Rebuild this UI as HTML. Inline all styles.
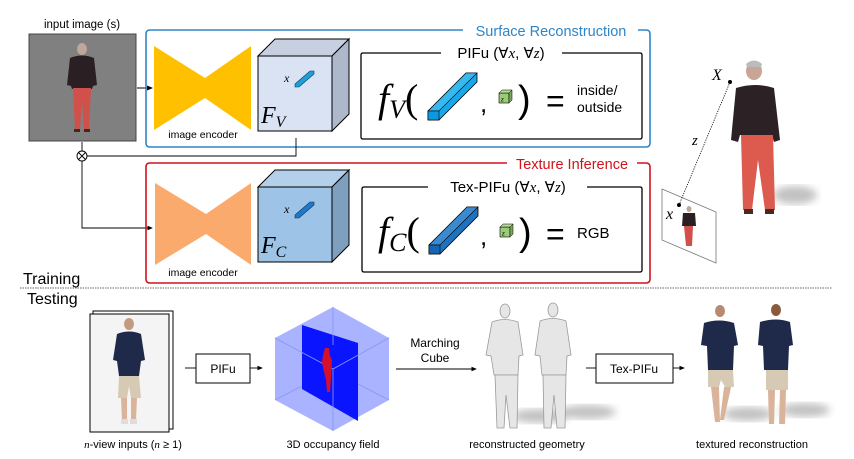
<!DOCTYPE html>
<html><head><meta charset="utf-8"><style>
html,body{margin:0;padding:0;background:#fff;}
svg{display:block;}
text{font-family:"Liberation Sans",sans-serif;}
.s{font-family:"Liberation Serif",serif;font-style:italic;}
</style></head><body>
<svg width="854" height="459" viewBox="0 0 854 459" xmlns="http://www.w3.org/2000/svg">
<defs>
<marker id="ar" markerWidth="6" markerHeight="6" refX="5" refY="3" orient="auto"><path d="M0,0.5 L6,3 L0,5.5z" fill="#000"/></marker>
<filter id="bl"><feGaussianBlur stdDeviation="4"/></filter>
</defs>

<!-- input image -->
<text x="82" y="28" font-size="11.5" text-anchor="middle">input image (s)</text>
<rect x="29" y="34" width="107" height="107" fill="#808080" stroke="#444" stroke-width="1"/>
<g>
<ellipse cx="82" cy="49" rx="5" ry="6" fill="#bfa79a"/>
<path d="M70,58 Q82,53 94,58 L97,85 L93,86 L92,89 L72,89 L71,86 L67,85z" fill="#2a2023"/>
<path d="M73,88 L91,88 L89,130 L84,130 L82,100 L80,130 L75,130z" fill="#d2504a"/>
<rect x="74" y="129" width="6" height="3" fill="#3a2a22"/><rect x="84" y="129" width="6" height="3" fill="#3a2a22"/>
</g>
<line x1="137" y1="88" x2="152" y2="88" stroke="#000" marker-end="url(#ar)"/>

<!-- blue box -->
<path d="M463,30 L150,30 Q146,30 146,34 L146,143 Q146,147 150,147 L646,147 Q650,147 650,143 L650,34 Q650,30 646,30 L638,30" fill="none" stroke="#2e86c9" stroke-width="1.6"/>
<text x="551" y="36" font-size="14.5" fill="#2e86c9" text-anchor="middle">Surface Reconstruction</text>
<polygon points="154,46 205,78 251,46 251,130 205,98 154,130" fill="#ffc000"/>
<text x="203" y="138" font-size="10.5" text-anchor="middle">image encoder</text>
<polygon points="258,56 275,39 349,39 332,56" fill="#c6d0e0" stroke="#000" stroke-width="1"/>
<polygon points="332,56 349,39 349,114 332,131" fill="#adb9ca" stroke="#000" stroke-width="1"/>
<rect x="258" y="56" width="74" height="75" fill="#dae3f3" stroke="#000" stroke-width="1"/>
<text x="284" y="82" class="s" font-size="12">x</text>
<polygon points="295,84 310,71 314,71 314,74 299,87 295,87" fill="#1f9fd8" stroke="#063a5c" stroke-width="0.6"/>
<text x="261" y="123" class="s" font-size="24">F<tspan font-size="16" dy="4">V</tspan></text>

<!-- connector -->
<path d="M296,138 L296,156 L87,156" fill="none" stroke="#000" stroke-width="0.9"/>
<line x1="82" y1="142" x2="82" y2="151" stroke="#000" stroke-width="0.9"/>
<circle cx="82" cy="156" r="5" fill="#fff" stroke="#000" stroke-width="0.9"/>
<path d="M78.5,152.5 L85.5,159.5 M85.5,152.5 L78.5,159.5" stroke="#000" stroke-width="0.9"/>
<path d="M82,161 L82,228 L152,228" fill="none" stroke="#000" stroke-width="0.9" marker-end="url(#ar)"/>

<!-- red box -->
<path d="M507,163 L150,163 Q146,163 146,167 L146,279 Q146,283 150,283 L646,283 Q650,283 650,279 L650,167 Q650,163 646,163 L637,163" fill="none" stroke="#d0121b" stroke-width="1.6"/>
<text x="572" y="169" font-size="14.5" fill="#d0121b" text-anchor="middle">Texture Inference</text>
<polygon points="155,183 206,214 251,183 251,265 206,234 155,265" fill="#fbaa6e"/>
<text x="203" y="276" font-size="10.5" text-anchor="middle">image encoder</text>
<polygon points="258,187 275,170 349,170 332,187" fill="#b4cfe9" stroke="#000" stroke-width="1"/>
<polygon points="332,187 349,170 349,245 332,262" fill="#7f9fbf" stroke="#000" stroke-width="1"/>
<rect x="258" y="187" width="74" height="75" fill="#9dc3e6" stroke="#000" stroke-width="1"/>
<text x="284" y="213" class="s" font-size="12">x</text>
<polygon points="295,215 310,202 314,202 314,205 299,218 295,218" fill="#1f78c8" stroke="#063a5c" stroke-width="0.6"/>
<text x="261" y="253" class="s" font-size="24">F<tspan font-size="16" dy="4">C</tspan></text>

<!-- PIFu box -->
<path d="M441,53 L363,53 Q361,53 361,55 L361,137 Q361,139 363,139 L640,139 Q642,139 642,137 L642,55 Q642,53 640,53 L562,53" fill="none" stroke="#000" stroke-width="1.3"/>
<text x="501" y="58" font-size="15" text-anchor="middle">PIFu (∀<tspan class="s">x</tspan>, ∀<tspan class="s">z</tspan>)</text>
<text x="378" y="112" class="s" font-size="40">f<tspan font-size="26" dy="6">V</tspan><tspan dy="-6" font-style="normal">(</tspan></text>
<polygon points="428,111 466,73 477,73 477,82 439,120 428,120" fill="#1aa7e8" stroke="#000" stroke-width="0.8"/>
<polygon points="428,111 439,111 477,73 466,73" fill="#35b9f0" stroke="#000" stroke-width="0.6"/>
<rect x="428" y="111" width="11" height="9" fill="#0b9ae0" stroke="#000" stroke-width="0.6"/>
<text x="480" y="112" font-size="26">,</text>
<rect x="499" y="93" width="10" height="10" fill="#9acb78" stroke="#000" stroke-width="0.6"/>
<polygon points="499,93 502,90 512,90 509,93" fill="#b6dc98" stroke="#000" stroke-width="0.5"/>
<polygon points="509,93 512,90 512,100 509,103" fill="#78a85a" stroke="#000" stroke-width="0.5"/>
<text x="501" y="101.5" class="s" font-size="7">z</text>
<text x="518" y="112" font-size="38" font-family="Liberation Serif">)</text>
<text x="546" y="112" font-size="32">=</text>
<text x="577" y="95" font-size="14">inside/</text>
<text x="577" y="112" font-size="14">outside</text>

<!-- Tex-PIFu box -->
<path d="M428,187 L364,187 Q362,187 362,189 L362,270 Q362,272 364,272 L640,272 Q642,272 642,270 L642,189 Q642,187 640,187 L587,187" fill="none" stroke="#000" stroke-width="1.3"/>
<text x="508" y="192" font-size="15" text-anchor="middle">Tex-PIFu (∀<tspan class="s">x</tspan>, ∀<tspan class="s">z</tspan>)</text>
<text x="378" y="245" class="s" font-size="40">f<tspan font-size="26" dy="6">C</tspan><tspan dy="-6" font-style="normal">(</tspan></text>
<polygon points="429,245 467,207 478,207 478,216 440,254 429,254" fill="#1f72bd" stroke="#000" stroke-width="0.8"/>
<polygon points="429,245 440,245 478,207 467,207" fill="#3a8ad0" stroke="#000" stroke-width="0.6"/>
<rect x="429" y="245" width="11" height="9" fill="#1466b4" stroke="#000" stroke-width="0.6"/>
<text x="480" y="245" font-size="26">,</text>
<rect x="500" y="227" width="10" height="10" fill="#9acb78" stroke="#000" stroke-width="0.6"/>
<polygon points="500,227 503,224 513,224 510,227" fill="#b6dc98" stroke="#000" stroke-width="0.5"/>
<polygon points="510,227 513,224 513,234 510,237" fill="#78a85a" stroke="#000" stroke-width="0.5"/>
<text x="502" y="235.5" class="s" font-size="7">z</text>
<text x="519" y="245" font-size="38" font-family="Liberation Serif">)</text>
<text x="546" y="245" font-size="32">=</text>
<text x="577" y="238" font-size="15">RGB</text>

<!-- right person & projection -->
<ellipse cx="795" cy="195" rx="22" ry="9" fill="#999" opacity="0.6" filter="url(#bl)"/>
<polygon points="662,189 716,212 716,263 662,240" fill="#fff" stroke="#777" stroke-width="0.8"/>
<ellipse cx="689" cy="209" rx="2.5" ry="3" fill="#bfa79a"/>
<path d="M683,213 L695,213 L696,226 L682,226z" fill="#2a2023"/>
<path d="M684,226 L693,226 L692,246 L686,246z" fill="#d2504a"/>
<line x1="730" y1="82" x2="679" y2="205" stroke="#000" stroke-width="0.8" stroke-dasharray="1.2,1.2"/>
<circle cx="730" cy="82" r="2" fill="#000"/><circle cx="679" cy="205" r="2" fill="#000"/>
<text x="712" y="80" class="s" font-size="16">X</text>
<text x="692" y="145" class="s" font-size="15">z</text>
<text x="666" y="219" class="s" font-size="16">x</text>
<ellipse cx="754" cy="71" rx="8" ry="9" fill="#c9a595"/>
<path d="M746,64 Q754,57 762,64 L761,67 L747,67z" fill="#bbb"/>
<path d="M736,88 Q755,82 774,88 L780,140 L774,142 L772,135 L740,135 L738,142 L731,140z" fill="#2c2226"/>
<path d="M741,135 L773,135 L775,210 L765,210 L758,160 L752,210 L743,210z" fill="#dc5a4e"/>
<rect x="744" y="209" width="9" height="5" fill="#4a2a20"/><rect x="765" y="209" width="9" height="5" fill="#4a2a20"/>

<!-- divider -->
<text x="23" y="284" font-size="16">Training</text>
<line x1="20" y1="288" x2="832" y2="288" stroke="#333" stroke-width="0.8" stroke-dasharray="1.5,1"/>
<text x="27" y="304" font-size="16">Testing</text>

<!-- bottom: photos -->
<rect x="93" y="311" width="80" height="118" fill="#fff" stroke="#000" stroke-width="1"/>
<rect x="90" y="314" width="79" height="118" fill="#f4f4f4" stroke="#000" stroke-width="1"/>
<ellipse cx="129" cy="324" rx="5" ry="6" fill="#c39a80"/>
<path d="M117,334 Q129,329 141,334 L145,360 L141,361 L139,376 L119,376 L117,361 L113,360z" fill="#1f2a4a"/>
<path d="M119,376 L139,376 L141,398 L131,398 L129,386 L127,398 L118,398z" fill="#d6cab5"/>
<path d="M121,398 L127,398 L127,420 L122,420z M131,398 L137,398 L136,420 L131,420z" fill="#d9b49a"/>
<rect x="121" y="419" width="7" height="5" fill="#ddd"/><rect x="130" y="419" width="7" height="5" fill="#ddd"/>
<text x="133" y="448" font-size="11" text-anchor="middle"><tspan class="s">n</tspan>-view inputs (<tspan class="s">n</tspan> ≥ 1)</text>

<line x1="185" y1="368" x2="196" y2="368" stroke="#000" stroke-width="0.9"/>
<rect x="196" y="354" width="54" height="29" fill="#fff" stroke="#000" stroke-width="1"/>
<text x="223" y="373" font-size="12" text-anchor="middle">PIFu</text>
<line x1="250" y1="368" x2="262" y2="368" stroke="#000" stroke-width="0.9" marker-end="url(#ar)"/>

<!-- occupancy cube -->
<polygon points="333,307 389,338 389,400 333,431 275,400 275,338" fill="#a9b3ff"/>
<polygon points="302,325 358,343 358,421 302,389" fill="#0a14ff"/>
<path d="M275,338 L333,369 L389,338 M333,369 L333,431 M333,307 L333,345 M275,400 L302,386 M389,400 L358,384" stroke="#8a95f5" stroke-width="0.8" fill="none"/>
<path d="M325,348 L329,348 L330,356 L332,360 L331,378 L330,392 L327,392 L326,380 L324,372 L322,362 L323,355z" fill="#d4102a"/>
<text x="333" y="448" font-size="11" text-anchor="middle">3D occupancy field</text>

<text x="435" y="347" font-size="12" text-anchor="middle">Marching</text>
<text x="435" y="362" font-size="12" text-anchor="middle">Cube</text>
<line x1="396" y1="369" x2="476" y2="369" stroke="#000" stroke-width="0.9" marker-end="url(#ar)"/>

<!-- geometry -->
<ellipse cx="540" cy="416" rx="28" ry="7" fill="#999" opacity="0.6" filter="url(#bl)"/>
<ellipse cx="588" cy="412" rx="28" ry="7" fill="#999" opacity="0.6" filter="url(#bl)"/>
<g fill="#e6e6e6" stroke="#9a9a9a" stroke-width="0.8">
<ellipse cx="505" cy="311" rx="5" ry="7"/>
<path d="M492,322 Q505,317 518,322 L523,355 L519,356 L518,375 L494,375 L491,356 L486,355z"/>
<path d="M495,375 L518,375 L517,428 L510,428 L506,395 L504,428 L497,428z"/>
<ellipse cx="553" cy="310" rx="5" ry="7"/>
<path d="M540,321 Q553,316 566,321 L571,355 L567,356 L566,375 L542,375 L540,356 L535,355z"/>
<path d="M543,375 L566,375 L565,428 L557,428 L554,395 L551,428 L544,428z"/>
</g>
<text x="527" y="448" font-size="11" text-anchor="middle">reconstructed geometry</text>

<line x1="586" y1="368" x2="596" y2="368" stroke="#000" stroke-width="0.9"/>
<rect x="596" y="354" width="77" height="29" fill="#fff" stroke="#000" stroke-width="1"/>
<text x="634" y="373" font-size="12" text-anchor="middle">Tex-PIFu</text>
<line x1="673" y1="368" x2="684" y2="368" stroke="#000" stroke-width="0.9" marker-end="url(#ar)"/>

<!-- textured -->
<ellipse cx="748" cy="414" rx="25" ry="7" fill="#999" opacity="0.6" filter="url(#bl)"/>
<ellipse cx="805" cy="410" rx="25" ry="7" fill="#999" opacity="0.6" filter="url(#bl)"/>
<ellipse cx="720" cy="311" rx="5" ry="6" fill="#b88a70"/>
<path d="M704,323 Q719,318 734,323 L738,345 L734,346 L733,370 L708,370 L707,346 L701,345z" fill="#1f2a4a"/>
<path d="M708,370 L733,370 L734,387 L725,387 L721,380 L719,387 L708,387z" fill="#d6cab5"/>
<path d="M711,387 L719,387 L720,422 L715,422z M724,387 L731,387 L724,420 L720,420z" fill="#d9b49a"/>
<ellipse cx="776" cy="310" rx="5" ry="6" fill="#8a5a3a"/>
<path d="M760,322 Q776,317 790,322 L793,345 L789,346 L788,370 L764,370 L763,346 L758,345z" fill="#1f2a4a"/>
<path d="M766,370 L788,370 L788,390 L766,390z" fill="#d6cab5"/>
<path d="M768,390 L775,390 L774,424 L769,424z M780,390 L786,390 L785,424 L779,424z" fill="#d9b49a"/>
<text x="752" y="448" font-size="11" text-anchor="middle">textured reconstruction</text>
</svg>
</body></html>
